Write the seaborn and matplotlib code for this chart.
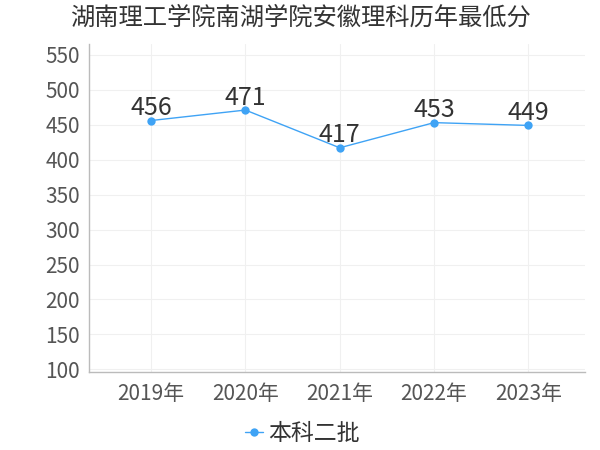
import matplotlib
matplotlib.use("Agg")
import matplotlib.pyplot as plt
import seaborn as sns
import pandas as pd

years = ["2019年", "2020年", "2021年", "2022年", "2023年"]
scores = [456, 471, 417, 453, 449]
series_name = "本科二批"
title = "湖南理工学院南湖学院安徽理科历年最低分"

sns.set_style("white")
plt.rcParams["font.family"] = ["Noto Sans CJK SC", "DejaVu Sans"]

df = pd.DataFrame({"year": years, "score": scores, "batch": series_name})
df["x"] = range(len(years))

fig = plt.figure(figsize=(6, 4.5), dpi=100)
ax = fig.add_axes([0.148, 0.173, 0.827, 0.73])

sns.lineplot(data=df, x="x", y="score", hue="batch", palette=["#3fa3f5"],
             marker="o", markersize=6, markeredgewidth=0, linewidth=1,
             ax=ax, legend=True)

for xi, v in zip(df["x"], df["score"]):
    ax.annotate(str(v), (xi, v), xytext=(0, 9), textcoords="offset points",
                ha="center", va="center", fontsize=18, color="#333333")

ax.set_xlim(-0.66, 4.6)
ax.set_ylim(96, 566)
ax.set_xticks(df["x"])
ax.set_xticklabels(years)
ax.set_yticks(range(100, 551, 50))
ax.tick_params(axis="both", labelsize=15, colors="#555555", length=4, width=0.8)
ax.tick_params(axis="x", color="#cccccc")
ax.tick_params(axis="y", color="#cccccc", length=3)
ax.set_xlabel("")
ax.set_ylabel("")
ax.grid(True, color="#f0f0f0", linewidth=0.8)
for s in ["top", "right"]:
    ax.spines[s].set_visible(False)
for s in ["left", "bottom"]:
    ax.spines[s].set_color("#bbbbbb")
    ax.spines[s].set_linewidth(1)

ax.legend(loc="upper center", bbox_to_anchor=(0.43, -0.09), frameon=False,
          fontsize=16.5, handlelength=0.8, handletextpad=0.2, labelcolor="#333333")

fig.suptitle(title, x=0.5, y=0.99, fontsize=17.5, color="#333333")

fig.savefig("out.png", dpi=100)
